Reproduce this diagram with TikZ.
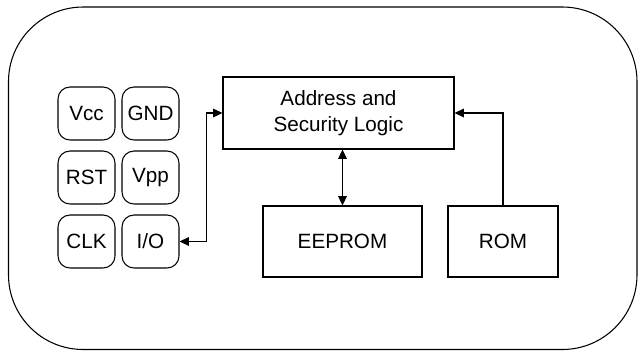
\documentclass[tikz,border=0pt]{standalone}
\usepackage{fontspec}
\setmainfont{Liberation Sans}
\usetikzlibrary{arrows.meta}

\tikzset{every picture/.style={line width=0.8pt}}
\tikzset{
  pin/.style={draw, rounded corners=9pt, minimum width=42.75pt, minimum height=39.75pt, inner sep=0pt},
  block/.style={draw, inner sep=0pt, align=center},
  link/.style={-{Triangle[length=7pt,width=6.5pt]}},
  dlink/.style={{Triangle[length=7pt,width=6.5pt]}-{Triangle[length=7pt,width=6.5pt]}}
}

\begin{document}
\begin{tikzpicture}[x=0.75pt,y=0.75pt,yscale=-1,xscale=1,font=\fontsize{15.5}{19}\selectfont]
	\useasboundingbox (0,0) rectangle (640,351);

	%Shape: Card outline
	\draw [rounded corners=56pt] (8.5,7) rectangle (637,349.5);

	% Contact pins
	\node [pin] (vcc) at (86.5,113.5) {Vcc};
	\node [pin] (gnd) at (150.5,113.5) {GND};
	\node [pin] (rst) at (86.5,177.5) {RST};
	\node [pin] (vpp) at (150.5,177.5) {Vpp};
	\node [pin] (clk) at (86.5,241.5) {CLK};
	\node [pin] (io) at (150.5,241.5) {I/O};

	% Blocks
	\node [block, minimum width=173.25pt, minimum height=54pt] (addr) at (338.5,113) {Address and\\Security Logic};
	\node [block, minimum width=119.25pt, minimum height=53.25pt] (eeprom) at (342.5,241.5) {EEPROM};
	\node [block, minimum width=82.5pt, minimum height=53.25pt] (rom) at (503,241.5) {ROM};

	% Connectors
	\draw [dlink] (io.east) -- ++(27,0) |- (addr.west);
	\draw [dlink] (eeprom.north) -- (eeprom.north |- addr.south);
	\draw [link] (rom.north) |- (addr.east);

\end{tikzpicture}
\end{document}
